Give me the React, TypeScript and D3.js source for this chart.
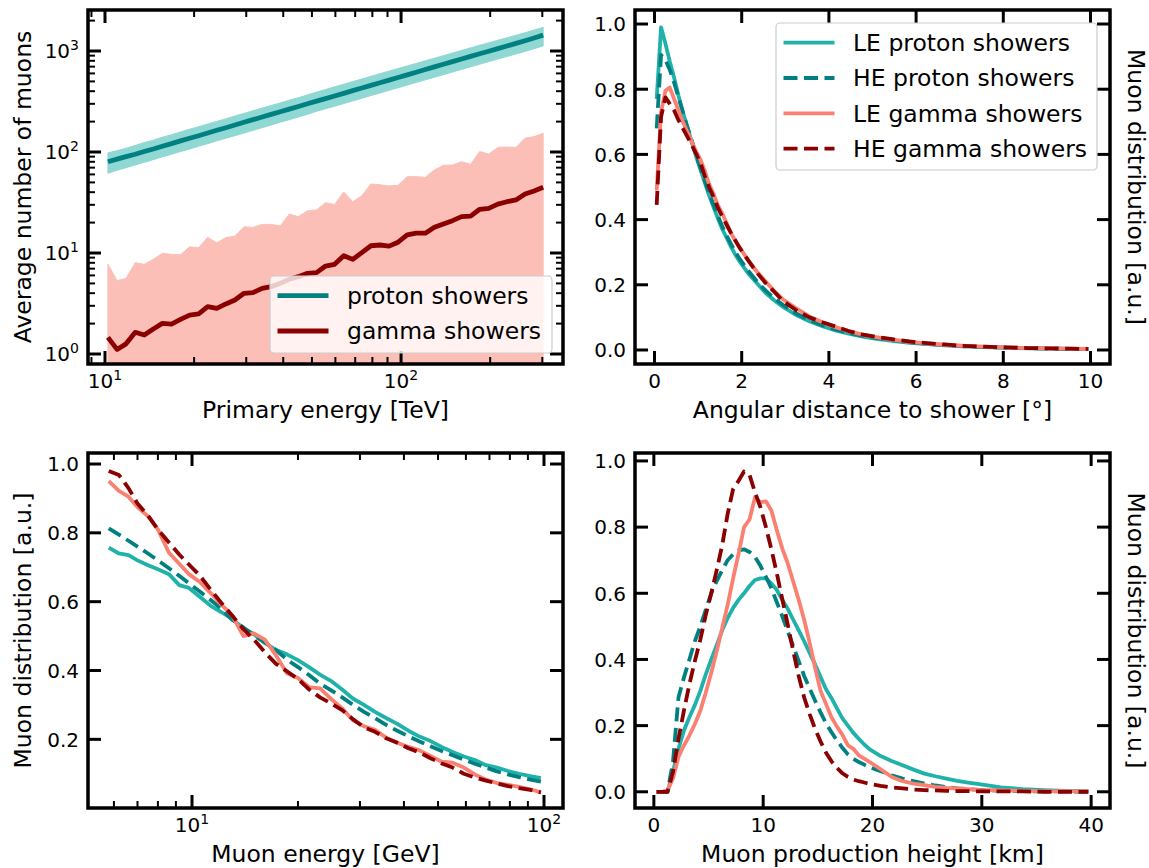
import React from 'react';
import * as d3 from 'd3';

// ---------- colours ----------
const TEAL = '#008080';
const LSG = '#20b2aa';
const SALMON = '#fa8072';
const DARKRED = '#8b0000';
const PROTON_BAND = '#8fd8d4';
const GAMMA_BAND = '#fcbfb8';
const FONT = 'DejaVu Sans, Verdana, sans-serif';

// ---------- panel A: average number of muons vs primary energy ----------
const energyTeV = [10.23, 10.98, 11.78, 12.65, 13.57, 14.56, 15.62, 16.77, 17.99, 19.31, 20.72, 22.23, 23.86, 25.6, 27.47, 29.48, 31.62, 33.94, 36.42, 39.08, 41.93, 45.0, 48.29, 51.82, 55.59, 59.66, 64.02, 68.7, 73.71, 79.1, 84.88, 91.08, 97.72, 104.9, 112.5, 120.8, 129.6, 139.0, 149.2, 160.1, 171.8, 184.3, 197.8, 212.3, 227.8, 244.4, 262.3, 281.4, 302.0];
const protonMean = [80, 85, 90, 95, 101, 107, 114, 121, 129, 137, 145, 154, 164, 174, 185, 197, 209, 222, 236, 250, 266, 282, 300, 319, 338, 359, 381, 405, 430, 457, 485, 515, 547, 581, 616, 655, 696, 739, 784, 833, 884, 938, 996, 1057, 1122, 1190, 1265, 1345, 1435];
const protonUpper = [98, 103, 109, 116, 124, 131, 140, 148, 158, 168, 178, 189, 201, 213, 227, 241, 256, 272, 289, 306, 326, 345, 367, 392, 415, 442, 468, 498, 528, 562, 596, 632, 670, 712, 754, 800, 848, 900, 955, 1012, 1075, 1140, 1205, 1278, 1352, 1430, 1515, 1610, 1715];
const protonLower = [61.5, 66, 70, 74.5, 79, 84, 89.5, 95, 101, 107, 114, 121, 129, 137, 145, 154, 164, 174, 185, 197, 209, 222, 236, 253, 268, 284, 302, 320, 340, 362, 384, 408, 433, 460, 488, 518, 550, 583, 620, 657, 698, 740, 785, 833, 882, 935, 990, 1055, 1122];
const gammaMean = [1.46, 1.11, 1.26, 1.64, 1.54, 1.77, 2.01, 1.98, 2.2, 2.43, 2.49, 2.94, 2.83, 3.13, 3.43, 3.99, 4.05, 4.47, 4.64, 5.01, 5.49, 5.83, 6.3, 6.4, 7.43, 7.73, 9.4, 8.65, 10.1, 11.8, 12.0, 11.7, 12.8, 15.1, 15.7, 15.7, 18.0, 19.4, 20.9, 22.9, 23.2, 27.1, 27.7, 30.5, 32.2, 33.5, 38.4, 41.1, 44.7];
const gammaUpper = [7.78, 5.32, 5.61, 8.02, 7.73, 8.66, 9.93, 9.7, 9.62, 11.5, 11.3, 14.3, 12.6, 14.2, 14.7, 18.2, 17.9, 19.2, 19.2, 18.5, 24.3, 22.9, 26.2, 26.7, 31.5, 30.3, 40.2, 32.2, 36.9, 48.2, 47.4, 46.1, 46.8, 57, 57, 56.1, 66.4, 73.8, 74.3, 80.2, 75.5, 101, 95.5, 111, 112, 111, 137, 142, 153];
// the lower edge of the gamma band (mean - sigma) lies below the axis everywhere

// ---------- panel B: angular distance ----------
const angle = [0.05, 0.15, 0.25, 0.35, 0.45, 0.55, 0.65, 0.75, 0.85, 0.95, 1.05, 1.15, 1.25, 1.35, 1.45, 1.55, 1.65, 1.75, 1.85, 1.95, 2.15, 2.35, 2.55, 2.75, 2.95, 3.25, 3.55, 3.85, 4.15, 4.45, 4.75, 5.05, 5.45, 5.85, 6.25, 6.65, 7.05, 7.55, 8.05, 8.55, 9.05, 9.55, 9.95];
const angLEp = [0.77, 0.99, 0.94, 0.885, 0.835, 0.78, 0.73, 0.685, 0.64, 0.595, 0.555, 0.515, 0.475, 0.44, 0.405, 0.372, 0.345, 0.318, 0.293, 0.272, 0.235, 0.205, 0.175, 0.152, 0.132, 0.107, 0.088, 0.073, 0.06, 0.05, 0.042, 0.035, 0.028, 0.022, 0.018, 0.014, 0.011, 0.009, 0.007, 0.005, 0.004, 0.003, 0.003];
const angHEp = [0.68, 0.905, 0.89, 0.86, 0.82, 0.775, 0.73, 0.685, 0.645, 0.6, 0.56, 0.52, 0.482, 0.447, 0.413, 0.38, 0.352, 0.326, 0.302, 0.28, 0.243, 0.21, 0.182, 0.158, 0.138, 0.112, 0.092, 0.076, 0.063, 0.052, 0.044, 0.037, 0.03, 0.024, 0.019, 0.015, 0.012, 0.009, 0.007, 0.006, 0.004, 0.003, 0.003];
const angLEg = [0.49, 0.73, 0.795, 0.805, 0.77, 0.735, 0.7, 0.67, 0.64, 0.61, 0.585, 0.55, 0.51, 0.48, 0.445, 0.42, 0.39, 0.36, 0.335, 0.315, 0.275, 0.24, 0.21, 0.18, 0.155, 0.128, 0.103, 0.085, 0.07, 0.058, 0.048, 0.04, 0.032, 0.025, 0.02, 0.016, 0.013, 0.01, 0.008, 0.006, 0.005, 0.004, 0.003];
const angHEg = [0.445, 0.715, 0.775, 0.755, 0.735, 0.705, 0.68, 0.655, 0.63, 0.603, 0.575, 0.535, 0.5, 0.47, 0.438, 0.41, 0.385, 0.36, 0.337, 0.314, 0.275, 0.237, 0.205, 0.178, 0.15, 0.122, 0.1, 0.085, 0.072, 0.058, 0.048, 0.041, 0.033, 0.026, 0.021, 0.017, 0.013, 0.01, 0.008, 0.006, 0.005, 0.004, 0.003];

// ---------- panel C: muon energy ----------
const muE = [5.8, 6.2, 6.6, 7.0, 7.5, 8.0, 8.6, 9.2, 9.8, 10.5, 11.3, 12.1, 13.0, 14.0, 15.0, 16.1, 17.3, 18.6, 20.0, 21.5, 23.1, 24.8, 26.7, 28.7, 30.8, 33.1, 35.6, 38.3, 41.2, 44.3, 47.6, 51.2, 55.0, 59.2, 63.6, 68.4, 73.5, 79.0, 85.0, 91.4, 98.0];
const eLEp = [0.757, 0.74, 0.735, 0.72, 0.706, 0.694, 0.68, 0.648, 0.64, 0.615, 0.588, 0.57, 0.55, 0.523, 0.505, 0.48, 0.46, 0.447, 0.43, 0.41, 0.388, 0.37, 0.345, 0.318, 0.3, 0.28, 0.262, 0.245, 0.225, 0.208, 0.195, 0.178, 0.163, 0.15, 0.14, 0.125, 0.118, 0.108, 0.1, 0.093, 0.087];
const eHEp = [0.813, 0.795, 0.777, 0.76, 0.74, 0.72, 0.697, 0.675, 0.653, 0.63, 0.605, 0.58, 0.548, 0.525, 0.502, 0.482, 0.46, 0.432, 0.41, 0.387, 0.362, 0.343, 0.322, 0.3, 0.28, 0.262, 0.242, 0.225, 0.209, 0.194, 0.18, 0.166, 0.154, 0.141, 0.129, 0.118, 0.107, 0.098, 0.09, 0.083, 0.077];
const eLEg = [0.95, 0.922, 0.905, 0.875, 0.848, 0.81, 0.742, 0.71, 0.68, 0.658, 0.625, 0.592, 0.56, 0.5, 0.508, 0.49, 0.445, 0.392, 0.378, 0.352, 0.348, 0.318, 0.29, 0.255, 0.238, 0.228, 0.205, 0.19, 0.178, 0.168, 0.152, 0.135, 0.132, 0.118, 0.098, 0.083, 0.073, 0.068, 0.062, 0.055, 0.046];
const eHEg = [0.98, 0.968, 0.93, 0.885, 0.85, 0.81, 0.772, 0.737, 0.708, 0.677, 0.635, 0.597, 0.56, 0.52, 0.49, 0.453, 0.42, 0.398, 0.375, 0.345, 0.322, 0.305, 0.285, 0.258, 0.235, 0.222, 0.203, 0.19, 0.174, 0.162, 0.145, 0.13, 0.118, 0.1, 0.089, 0.08, 0.072, 0.064, 0.058, 0.053, 0.046];

// ---------- panel D: production height ----------
const heightKm = [0.25, 0.75, 1.25, 1.75, 2.25, 2.75, 3.25, 3.75, 4.25, 4.75, 5.25, 5.75, 6.25, 6.75, 7.25, 7.75, 8.25, 8.75, 9.25, 9.75, 10.25, 10.75, 11.25, 11.75, 12.25, 12.75, 13.25, 13.75, 14.25, 14.75, 15.25, 15.75, 16.25, 16.75, 17.25, 17.75, 18.25, 18.75, 19.25, 19.75, 20.75, 21.75, 22.75, 23.75, 24.75, 25.75, 26.75, 27.75, 28.75, 29.75, 31.75, 33.75, 35.75, 37.75, 39.75];
const hLEp = [0, 0, 0, 0.06, 0.13, 0.185, 0.225, 0.262, 0.305, 0.355, 0.4, 0.443, 0.488, 0.525, 0.556, 0.58, 0.6, 0.622, 0.64, 0.645, 0.645, 0.63, 0.61, 0.58, 0.553, 0.52, 0.488, 0.455, 0.42, 0.385, 0.347, 0.31, 0.283, 0.252, 0.222, 0.2, 0.178, 0.16, 0.143, 0.128, 0.108, 0.093, 0.08, 0.067, 0.055, 0.047, 0.04, 0.033, 0.028, 0.023, 0.013, 0.008, 0.005, 0.003, 0.002];
const hHEp = [0, 0, 0, 0.09, 0.285, 0.345, 0.4, 0.455, 0.5, 0.55, 0.6, 0.637, 0.67, 0.7, 0.718, 0.73, 0.733, 0.725, 0.71, 0.683, 0.65, 0.615, 0.573, 0.53, 0.485, 0.44, 0.395, 0.35, 0.312, 0.275, 0.24, 0.207, 0.18, 0.155, 0.133, 0.113, 0.1, 0.09, 0.082, 0.074, 0.062, 0.05, 0.04, 0.032, 0.025, 0.019, 0.014, 0.01, 0.008, 0.006, 0.003, 0.002, 0.001, 0.001, 0];
const hLEg = [0, 0, 0.005, 0.04, 0.105, 0.14, 0.17, 0.205, 0.245, 0.3, 0.36, 0.425, 0.495, 0.565, 0.645, 0.72, 0.8, 0.823, 0.89, 0.875, 0.878, 0.85, 0.79, 0.735, 0.69, 0.635, 0.58, 0.52, 0.45, 0.375, 0.305, 0.265, 0.225, 0.197, 0.172, 0.14, 0.13, 0.11, 0.1, 0.09, 0.068, 0.045, 0.032, 0.025, 0.02, 0.015, 0.012, 0.01, 0.008, 0.006, 0.004, 0.003, 0.002, 0.002, 0.001];
const hHEg = [0, 0, 0, 0.06, 0.16, 0.245, 0.325, 0.395, 0.46, 0.535, 0.6, 0.67, 0.745, 0.84, 0.915, 0.94, 0.968, 0.958, 0.905, 0.86, 0.8, 0.733, 0.66, 0.582, 0.505, 0.425, 0.35, 0.285, 0.235, 0.19, 0.152, 0.118, 0.092, 0.072, 0.056, 0.045, 0.037, 0.032, 0.028, 0.024, 0.018, 0.013, 0.01, 0.007, 0.005, 0.004, 0.003, 0.002, 0.002, 0.001, 0.001, 0.001, 0, 0, 0];

// ---------- tick values ----------
const tlXMajor = [10, 100];
const tlXMinor = [9, 20, 30, 40, 50, 60, 70, 80, 90, 200, 300];
const tlYMajor = [1, 10, 100, 1000];
const tlYMinor = [2, 3, 4, 5, 6, 7, 8, 9, 20, 30, 40, 50, 60, 70, 80, 90, 200, 300, 400, 500, 600, 700, 800, 900, 2000];
const trXTicks = [0, 2, 4, 6, 8, 10];
const unitYTicks = [0, 0.2, 0.4, 0.6, 0.8, 1.0];
const blXMajor = [10, 100];
const blXMinor = [6, 7, 8, 9, 20, 30, 40, 50, 60, 70, 80, 90];
const blYTicks = [0.2, 0.4, 0.6, 0.8, 1.0];
const brXTicks = [0, 10, 20, 30, 40];

type Line = { x: number[]; y: number[]; color: string; dashed?: boolean; width: number };
type BandT = { x: number[]; lo?: number[]; hi: number[]; color: string };
type LegendItem = { label: string; color: string; dashed?: boolean; width: number };

interface PanelProps {
  id: string;
  box: [number, number, number, number];
  xLog: boolean;
  yLog: boolean;
  xDomain: [number, number];
  yDomain: [number, number];
  xMajor: number[];
  xMinor?: number[];
  yMajor: number[];
  yMinor?: number[];
  xFmt: (v: number) => React.ReactNode;
  yFmt: (v: number) => React.ReactNode;
  xLabel: string;
  yLabel: string;
  yLabelRight?: boolean;
  lines: Line[];
  bands?: BandT[];
  legend?: { x: number; y: number; w: number; h: number; items: LegendItem[] };
}

const MAJ = 13;
const MIN = 7;
const DASH = '14,6.5';
const LW = 3.8;

function supLabel(v: number) {
  const k = Math.round(Math.log10(v));
  return (
    <>
      10<tspan dy={-8} fontSize={14}>{k}</tspan>
    </>
  );
}

function Panel(p: PanelProps) {
  const [x0, y0, x1, y1] = p.box;
  const xs: any = (p.xLog ? d3.scaleLog() : d3.scaleLinear()).domain(p.xDomain).range([x0, x1]);
  const ys: any = (p.yLog ? d3.scaleLog() : d3.scaleLinear()).domain(p.yDomain).range([y1, y0]);
  const clip = `clip-${p.id}`;
  const inX = (v: number) => { const q = xs(v); return q >= x0 - 0.5 && q <= x1 + 0.5; };
  const inY = (v: number) => { const q = ys(v); return q >= y0 - 0.5 && q <= y1 + 0.5; };

  const lineGen = (l: Line) =>
    d3.line<number>().x((_, i) => xs(l.x[i])).y((d) => ys(d))(l.y) || '';
  const areaGen = (b: BandT) =>
    d3.area<number>()
      .x((_, i) => xs(b.x[i]))
      .y0((_, i) => (b.lo ? ys(b.lo[i]) : y1 + 10))
      .y1((d) => ys(d))(b.hi) || '';

  const tick = (key: string, xa: number, ya: number, xb: number, yb: number, w: number) => (
    <line key={key} x1={xa} y1={ya} x2={xb} y2={yb} stroke="#000" strokeWidth={w} />
  );

  const ticks: React.ReactNode[] = [];
  p.xMajor.filter(inX).forEach((t, i) => {
    const q = xs(t);
    ticks.push(tick(`xM${i}b`, q, y1, q, y1 - MAJ, 3));
    ticks.push(tick(`xM${i}t`, q, y0, q, y0 + MAJ, 3));
  });
  (p.xMinor || []).filter(inX).forEach((t, i) => {
    const q = xs(t);
    ticks.push(tick(`xm${i}b`, q, y1, q, y1 - MIN, 2));
    ticks.push(tick(`xm${i}t`, q, y0, q, y0 + MIN, 2));
  });
  p.yMajor.filter(inY).forEach((t, i) => {
    const q = ys(t);
    ticks.push(tick(`yM${i}l`, x0, q, x0 + MAJ, q, 3));
    ticks.push(tick(`yM${i}r`, x1, q, x1 - MAJ, q, 3));
  });
  (p.yMinor || []).filter(inY).forEach((t, i) => {
    const q = ys(t);
    ticks.push(tick(`ym${i}l`, x0, q, x0 + MIN, q, 2));
    ticks.push(tick(`ym${i}r`, x1, q, x1 - MIN, q, 2));
  });

  const cx = (x0 + x1) / 2;
  const cy = (y0 + y1) / 2;

  return (
    <g>
      <defs>
        <clipPath id={clip}>
          <rect x={x0} y={y0} width={x1 - x0} height={y1 - y0} />
        </clipPath>
      </defs>
      <g clipPath={`url(#${clip})`}>
        {(p.bands || []).map((b, i) => (
          <path key={`b${i}`} d={areaGen(b)} fill={b.color} stroke={b.color} strokeWidth={1} />
        ))}
        {p.lines.map((l, i) => (
          <path
            key={`l${i}`}
            d={lineGen(l)}
            fill="none"
            stroke={l.color}
            strokeWidth={l.width}
            strokeDasharray={l.dashed ? DASH : undefined}
            strokeLinejoin="round"
          />
        ))}
      </g>
      {ticks}
      <rect x={x0} y={y0} width={x1 - x0} height={y1 - y0} fill="none" stroke="#000" strokeWidth={3.5} />
      <g fontFamily={FONT} fontSize={20} fill="#000">
        {p.xMajor.filter(inX).map((t, i) => (
          <text key={`xl${i}`} x={xs(t)} y={y1 + 24} textAnchor="middle">
            {p.xFmt(t)}
          </text>
        ))}
        {p.yMajor.filter(inY).map((t, i) => (
          <text key={`yl${i}`} x={x0 - 9} y={ys(t) + 7.3} textAnchor="end">
            {p.yFmt(t)}
          </text>
        ))}
      </g>
      <g fontFamily={FONT} fontSize={23.5} fill="#000">
        <text x={cx} y={y1 + 54} textAnchor="middle">{p.xLabel}</text>
        {p.yLabelRight ? (
          <text x={x1 + 18} y={cy} textAnchor="middle" transform={`rotate(90 ${x1 + 18} ${cy})`}>
            {p.yLabel}
          </text>
        ) : (
          <text x={31} y={cy} textAnchor="middle" transform={`rotate(-90 31 ${cy})`}>
            {p.yLabel}
          </text>
        )}
      </g>
      {p.legend && (
        <g>
          <rect
            x={p.legend.x}
            y={p.legend.y}
            width={p.legend.w}
            height={p.legend.h}
            rx={4}
            ry={4}
            fill="#fff"
            fillOpacity={0.8}
            stroke="#cccccc"
            strokeWidth={1.2}
          />
          {p.legend.items.map((it, i) => {
            const ry = p.legend!.y + 19.7 + i * 35.3;
            return (
              <g key={`lg${i}`}>
                <line
                  x1={p.legend!.x + 7.5}
                  x2={p.legend!.x + 58.5}
                  y1={ry}
                  y2={ry}
                  stroke={it.color}
                  strokeWidth={it.width}
                  strokeDasharray={it.dashed ? DASH : undefined}
                />
                <text x={p.legend!.x + 77} y={ry + 8.3} fontFamily={FONT} fontSize={23.5} fill="#000">
                  {it.label}
                </text>
              </g>
            );
          })}
        </g>
      )}
    </g>
  );
}

const fmt1 = (v: number) => d3.format('.1f')(v);
const fmtInt = (v: number) => d3.format('d')(v);

export default function App() {
  const L = 88, R = 563, L2 = 635, R2 = 1110;
  const T1 = 10, B1 = 364, T2 = 453, B2 = 808;
  return (
    <svg
      width={1149}
      height={868}
      viewBox="0 0 1149 868"
      style={{ position: 'absolute', left: 0, top: 0, background: '#fff' }}
    >
      <rect x={0} y={0} width={1149} height={868} fill="#fff" />
      <Panel
        id="a"
        box={[L, T1, R, B1]}
        xLog
        yLog
        xDomain={[Math.pow(10, 0.9426), Math.pow(10, 2.547)]}
        yDomain={[Math.pow(10, -0.099), Math.pow(10, 3.406)]}
        xMajor={tlXMajor}
        xMinor={tlXMinor}
        yMajor={tlYMajor}
        yMinor={tlYMinor}
        xFmt={supLabel}
        yFmt={supLabel}
        xLabel="Primary energy [TeV]"
        yLabel="Average number of muons"
        bands={[
          { x: energyTeV, lo: protonLower, hi: protonUpper, color: PROTON_BAND },
          { x: energyTeV, hi: gammaUpper, color: GAMMA_BAND },
        ]}
        lines={[
          { x: energyTeV, y: protonMean, color: TEAL, width: 4.8 },
          { x: energyTeV, y: gammaMean, color: DARKRED, width: 4.8 },
        ]}
        legend={{
          x: 270,
          y: 276,
          w: 282,
          h: 77,
          items: [
            { label: 'proton showers', color: TEAL, width: 4.8 },
            { label: 'gamma showers', color: DARKRED, width: 4.8 },
          ],
        }}
      />
      <Panel
        id="b"
        box={[L2, T1, R2, B1]}
        xLog={false}
        yLog={false}
        xDomain={[-0.4475, 10.4475]}
        yDomain={[-0.043, 1.043]}
        xMajor={trXTicks}
        yMajor={unitYTicks}
        xFmt={fmtInt}
        yFmt={fmt1}
        xLabel="Angular distance to shower [°]"
        yLabel="Muon distribution [a.u.]"
        yLabelRight
        lines={[
          { x: angle, y: angLEp, color: LSG, width: LW },
          { x: angle, y: angHEp, color: TEAL, width: LW, dashed: true },
          { x: angle, y: angLEg, color: SALMON, width: LW },
          { x: angle, y: angHEg, color: DARKRED, width: LW, dashed: true },
        ]}
        legend={{
          x: 776,
          y: 23,
          w: 321,
          h: 147,
          items: [
            { label: 'LE proton showers', color: LSG, width: LW },
            { label: 'HE proton showers', color: TEAL, width: LW, dashed: true },
            { label: 'LE gamma showers', color: SALMON, width: LW },
            { label: 'HE gamma showers', color: DARKRED, width: LW, dashed: true },
          ],
        }}
      />
      <Panel
        id="c"
        box={[L, T2, R, B2]}
        xLog
        yLog={false}
        xDomain={[Math.pow(10, 0.7045), Math.pow(10, 2.054)]}
        yDomain={[0.0005, 1.032]}
        xMajor={blXMajor}
        xMinor={blXMinor}
        yMajor={blYTicks}
        xFmt={supLabel}
        yFmt={fmt1}
        xLabel="Muon energy [GeV]"
        yLabel="Muon distribution [a.u.]"
        lines={[
          { x: muE, y: eLEp, color: LSG, width: LW },
          { x: muE, y: eHEp, color: TEAL, width: LW, dashed: true },
          { x: muE, y: eLEg, color: SALMON, width: LW },
          { x: muE, y: eHEg, color: DARKRED, width: LW, dashed: true },
        ]}
      />
      <Panel
        id="d"
        box={[L2, T2, R2, B2]}
        xLog={false}
        yLog={false}
        xDomain={[-1.725, 41.725]}
        yDomain={[-0.049, 1.024]}
        xMajor={brXTicks}
        yMajor={unitYTicks}
        xFmt={fmtInt}
        yFmt={fmt1}
        xLabel="Muon production height [km]"
        yLabel="Muon distribution [a.u.]"
        yLabelRight
        lines={[
          { x: heightKm, y: hLEp, color: LSG, width: LW },
          { x: heightKm, y: hHEp, color: TEAL, width: LW, dashed: true },
          { x: heightKm, y: hLEg, color: SALMON, width: LW },
          { x: heightKm, y: hHEg, color: DARKRED, width: LW, dashed: true },
        ]}
      />
    </svg>
  );
}
